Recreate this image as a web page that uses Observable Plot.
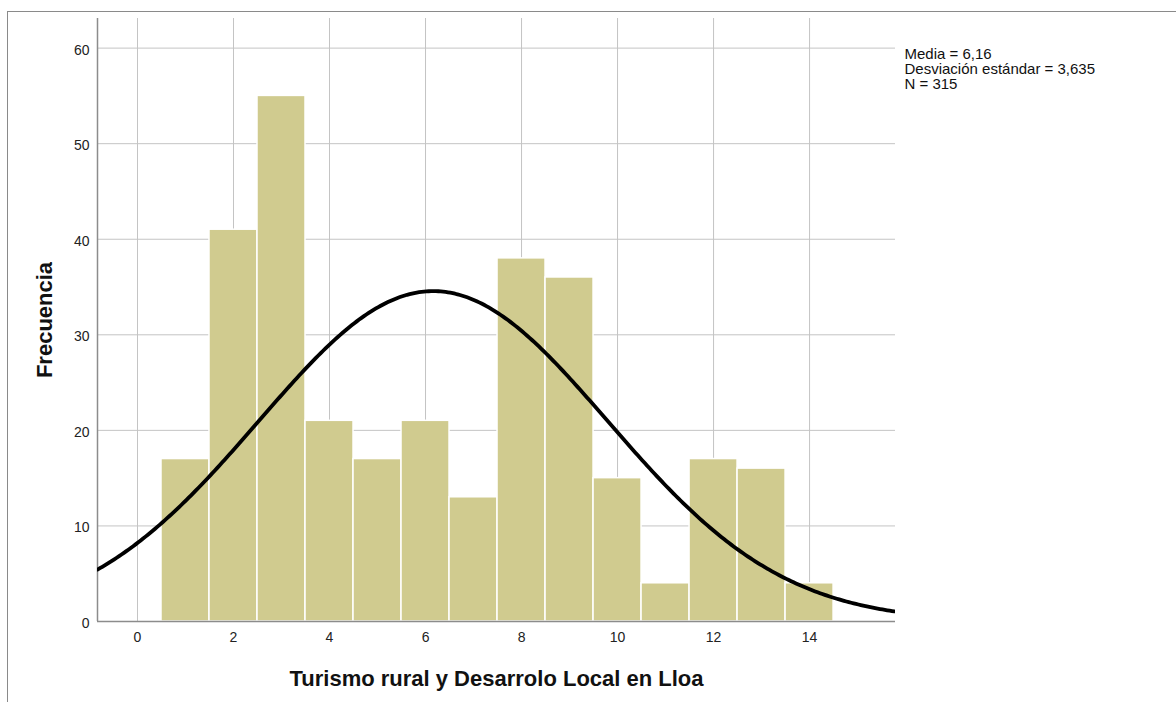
<!DOCTYPE html>
<html>
<head>
<meta charset="utf-8">
<script src="https://cdn.jsdelivr.net/npm/d3@7"></script>
<script src="https://cdn.jsdelivr.net/npm/@observablehq/plot@0.6"></script>
<style>
  html, body { margin: 0; padding: 0; background: #fff; }
  #frame { position: absolute; left: 7px; top: 11px; width: 1169px; height: 691px;
           border-top: 1px solid #8a8a8a; border-left: 1px solid #8a8a8a; }
  #chart { position: absolute; left: 0; top: 0; }
</style>
</head>
<body>
<div id="frame"></div>
<div id="chart"></div>
<script>
// Data
const scores = [1, 2, 3, 4, 5, 6, 7, 8, 9, 10, 11, 12, 13, 14];
const counts = [17, 41, 55, 21, 17, 21, 13, 38, 36, 15, 4, 17, 16, 4];
const xTicks = [0, 2, 4, 6, 8, 10, 12, 14];
const yTicks = [0, 10, 20, 30, 40, 50, 60];
const media = 6.16;
const desviacion = 3.635;
const nTotal = 315;
const legendLines = ["Media = 6,16", "Desviación estándar = 3,635", "N = 315"];

const bars = scores.map((s, i) => ({x1: s - 0.5, x2: s + 0.5, y: counts[i]}));

// Fitted normal curve (from the stated mean, sd and N, bin width 1)
const xDomain = [-0.833, 15.79];
const curve = d3.range(xDomain[0], xDomain[1] + 0.001, 0.05).map(x => ({
  x,
  y: nTotal / (desviacion * Math.sqrt(2 * Math.PI)) * Math.exp(-0.5 * ((x - media) / desviacion) ** 2)
}));

const plot = Plot.plot({
  width: 1176,
  height: 702,
  marginLeft: 97,
  marginRight: 281,
  marginTop: 18,
  marginBottom: 81,
  style: {fontFamily: "'Liberation Sans', Arial, sans-serif", fontSize: "14px", color: "#222", background: "transparent"},
  x: {domain: xDomain, ticks: xTicks, tickSize: 0, label: null},
  y: {domain: [0, 63.1], ticks: yTicks, tickSize: 0, label: null},
  marks: [
    Plot.gridX(xTicks, {stroke: "#c4c4c4", strokeOpacity: 1, strokeWidth: 1}),
    Plot.gridY(yTicks, {stroke: "#c4c4c4", strokeOpacity: 1, strokeWidth: 1}),
    Plot.rectY(bars, {x1: "x1", x2: "x2", y: "y", fill: "#d0cb8f", stroke: "#fff", strokeWidth: 1.5}),
    Plot.ruleX([xDomain[0]], {stroke: "#8c8c8c", strokeWidth: 1.5}),
    Plot.ruleY([0], {stroke: "#8c8c8c", strokeWidth: 1.5}),
    Plot.line(curve, {x: "x", y: "y", stroke: "#000", strokeWidth: 3.8, clip: true}),
    Plot.axisX(xTicks, {tickSize: 0, tickPadding: 11, fontSize: 14, label: null}),
    Plot.axisY(yTicks, {tickSize: 0, tickPadding: 8, dy: 2, fontSize: 14, label: null}),
    Plot.text([legendLines.join("\n")], {frameAnchor: "top-right", dx: 9, dy: 30, textAnchor: "start", lineAnchor: "top", lineHeight: 1.0, fontSize: 15, fill: "#111"}),
    Plot.text(["Turismo rural y Desarrolo Local en Lloa"], {frameAnchor: "bottom", dy: 64, fontSize: 22, fontWeight: "bold", fill: "#111"}),
    Plot.text(["Frecuencia"], {frameAnchor: "left", dx: -53, rotate: -90, textAnchor: "middle", fontSize: 22, fontWeight: "bold", fill: "#111"})
  ]
});
document.getElementById("chart").appendChild(plot);
</script>
</body>
</html>
